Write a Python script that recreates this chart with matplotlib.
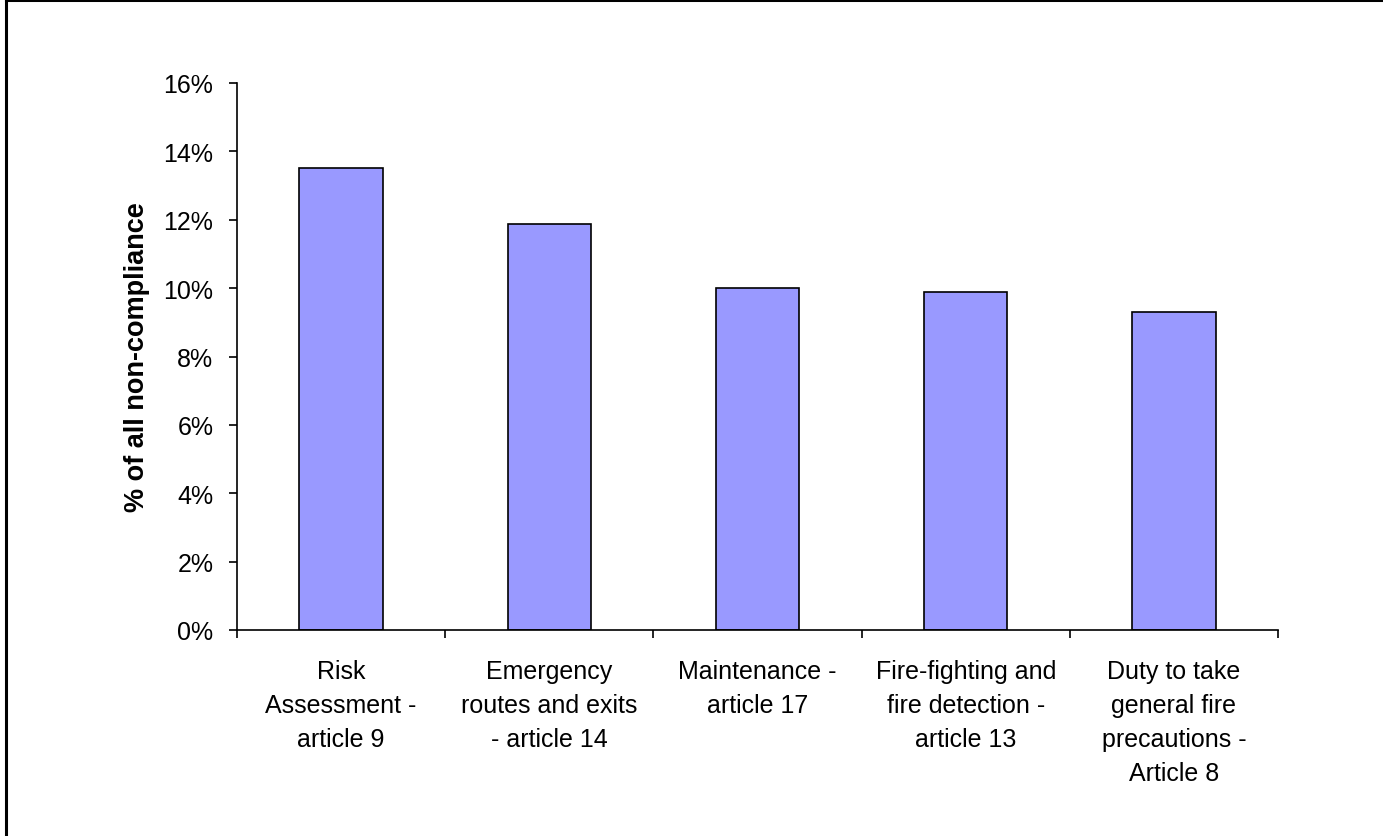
import numpy as np
import matplotlib
matplotlib.use("Agg")
import matplotlib.pyplot as plt
from matplotlib.lines import Line2D
from matplotlib.ticker import FuncFormatter

plt.rcParams['font.family'] = ['Liberation Sans', 'DejaVu Sans']

# data
categories = ["Risk\nAssessment -\narticle 9",
              "Emergency\nroutes and exits\n- article 14",
              "Maintenance -\narticle 17",
              "Fire-fighting and\nfire detection -\narticle 13",
              "Duty to take\ngeneral fire\nprecautions -\nArticle 8"]
values = [13.52, 11.89, 10.01, 9.90, 9.31]
yticks = [0, 2, 4, 6, 8, 10, 12, 14, 16]

W, H = 1383, 837
fig = plt.figure(figsize=(W/100, H/100), dpi=100)
ax = fig.add_axes([237/W, 1-631/H, (1278-237)/W, (631-84)/H])

x = np.arange(len(categories))
ax.bar(x, values, width=0.4, color='#9999FF', edgecolor='black', linewidth=1.2, zorder=2)

ax.set_xlim(-0.5, len(categories)-0.5)
ax.set_ylim(0, 16)
ax.set_yticks(yticks)
ax.yaxis.set_major_formatter(FuncFormatter(lambda v, p: '%d%%' % v))
ax.tick_params(axis='y', direction='out', length=6, width=1.2, pad=11, labelsize=18)

# category labels at bar centres, ticks between categories
ax.set_xticks(x)
ax.set_xticklabels(categories, fontsize=18, linespacing=1.52)
ax.tick_params(axis='x', which='major', length=0, pad=21)
ax.set_xticks(np.arange(-0.5, len(categories)), minor=True)
ax.tick_params(axis='x', which='minor', direction='out', length=6, width=1.2)

for s in ['top', 'right']:
    ax.spines[s].set_visible(False)
for s in ['left', 'bottom']:
    ax.spines[s].set_linewidth(1.2)

ax.set_ylabel('% of all non-compliance', fontsize=19.5, fontweight='bold', labelpad=10)

# partial outer frame (left and top edges only visible)
fig.add_artist(Line2D([6/W, 6/W], [0, 1], transform=fig.transFigure, color='black', linewidth=2.2))
fig.add_artist(Line2D([6/W, 1], [1-1/H, 1-1/H], transform=fig.transFigure, color='black', linewidth=2.2))

fig.savefig('out.png', dpi=100)
